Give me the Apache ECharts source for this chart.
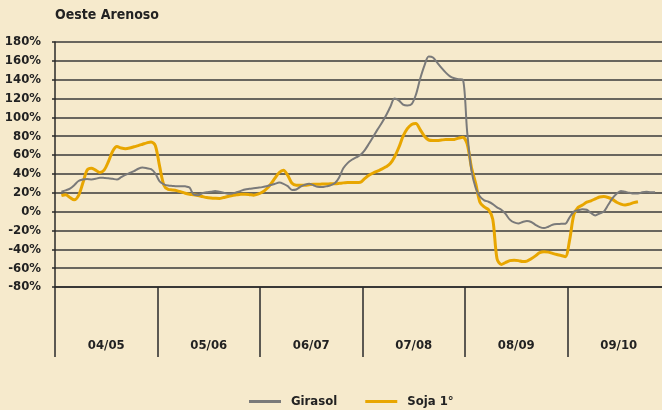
<!DOCTYPE html>
<html>
<head>
<meta charset="utf-8">
<script src="https://cdn.jsdelivr.net/npm/echarts@6/dist/echarts.min.js"></script>
<style>
  html, body { margin: 0; padding: 0; background: #f6eacc; }
  #chart { width: 662px; height: 410px; }
</style>
</head>
<body>
<div id="chart"></div>
<script>
// campañas (eje inferior)
const seasons = ['04/05', '05/06', '06/07', '07/08', '08/09', '09/10']
// quincenas, 24 por campaña
const periods = Array.from({ length: 144 }, (_, i) => i)
const yTicks = { min: -80, max: 180, step: 20 }

const girasol = [
  null, 21, 22.5, 24.3, 28, 32.5, 34, 34.5, 34.2, 34.8, 36, 35.8,
  35.5, 34.8, 34, 36.5, 39, 41, 43, 45.5, 46.7, 46, 45, 40.5,
  32, 29, 27.6, 27.3, 27, 27, 26.8, 25.5, 18, 17.5, 19.5, 20.5,
  21, 22, 21, 20, 19, 19.2, 20.5, 22, 23.5, 24.2, 24.8, 25.4,
  26, 27, 28.2, 29.5, 30.8, 29.5, 27, 23, 23.5, 26.5, 28.5, 29.6,
  28, 26.3, 26, 26.8, 27.8, 30, 36, 46, 51.5, 55, 57.5, 60,
  65, 72, 79.5, 87, 94, 102, 111, 120, 118, 113.5, 112.5, 114,
  124, 141, 155, 164.5, 163.5, 158, 152.5, 147.5, 143.5, 141.5, 140.5, 140,
  85, 44, 25, 16, 12, 10.5, 8, 4.5, 2, -2.5, -8.5, -11.5,
  -12.6, -11, -10, -11, -14, -16.5, -17.5, -16, -14, -13.2, -13, -12.8,
  -6, 0, 1.5, 2.5, 2, -1.5, -4, -2, 0, 7, 14, 19,
  22, 21, 20, 19.2, 19.2, 20.5, 21, 20.5, 20.5, null, null, null
]

const soja = [
  null, 17, 18, 15, 12.5, 17, 30, 44, 46, 44, 41.5, 44,
  53, 64, 69, 67.5, 66.8, 67.5, 68.8, 70, 71.5, 73, 74, 70,
  48, 28, 23.5, 23, 22.3, 21, 19.5, 18.5, 17.8, 17, 16, 15,
  14.5, 14.2, 14, 15, 16, 17.2, 17.8, 18.3, 18.3, 18, 17.5, 18.5,
  20.5, 24, 29, 35.5, 41.5, 44, 38.5, 30, 28, 28, 28, 28.5,
  29, 29, 29.2, 29.3, 29.5, 29.6, 30, 30.5, 30.8, 31, 31, 31.2,
  35, 38.5, 41, 43, 45, 47.5, 51, 58, 68, 80, 88, 92.5,
  93.5, 87, 80, 76, 75.5, 75.5, 76, 76.4, 76.4, 76.6, 78, 79,
  72, 47, 30, 10, 5, 2, -8, -50, -56, -54, -52, -51.5,
  -52, -53, -52.5, -50, -47, -43.5, -42.5, -43, -44.3, -45.5, -46.5, -47.8,
  -30, -3, 4.5, 7, 10, 11.5, 13.5, 15.5, 16, 15, 13, 10,
  8, 7, 8, 9.5, 10.5, null, null, null, null, null, null, null
]

const font = '"Liberation Sans Narrow", "DejaVu Sans Condensed", sans-serif'

let mycharts = echarts.init(document.getElementById('chart'))
mycharts.setOption({
  backgroundColor: '#f6eacc',
  title: {
    text: 'Oeste Arenoso',
    left: 50,
    top: 3,
    textStyle: { fontFamily: font, fontSize: 14, fontWeight: 'bold', color: '#222' },
  },
  legend: {
    left: 244,
    top: 390,
    itemWidth: 32,
    itemHeight: 3,
    itemGap: 28,
    icon: 'rect',
    data: ['Girasol', 'Soja 1°'],
    textStyle: { fontFamily: font, fontSize: 13, fontWeight: 'bold', color: '#222', padding: [0, 0, 0, 5] },
  },
  grid: {
    left: 55,
    top: 42,
    width: 615,
    height: 245,
    //no reajustar la rejilla al contenedor
    outerBoundsMode: 'none',
    containLabel: false,
  },
  xAxis: [
    {
      type: 'category',
      data: seasons,
      boundaryGap: true,
      //eje siempre abajo, no en el 0%
      axisLine: { show: true, onZero: false, lineStyle: { color: '#2a2a2a', width: 1.5 } },
      //separadores largos entre campañas
      axisTick: { show: true, inside: false, length: 70, lineStyle: { color: '#2a2a2a', width: 1.5 } },
      axisLabel: { margin: 52, fontFamily: font, fontSize: 13, fontWeight: 'bold', color: '#222' },
      splitLine: { show: false },
    },
    {
      type: 'category',
      data: periods,
      boundaryGap: true,
      show: false,
    },
  ],
  yAxis: {
    type: 'value',
    min: yTicks.min,
    max: yTicks.max,
    interval: yTicks.step,
    axisLine: { show: true, lineStyle: { color: '#2a2a2a', width: 1.5 } },
    axisTick: { show: true, length: 3, lineStyle: { color: '#2a2a2a', width: 1.5 } },
    axisLabel: { formatter: '{value}%', margin: 14, fontFamily: font, fontSize: 13, fontWeight: 'bold', color: '#222' },
    splitLine: { show: true, lineStyle: { color: '#3a3a3a', width: 1.5 } },
  },
  series: [
    {
      name: 'Girasol',
      type: 'line',
      xAxisIndex: 1,
      data: girasol,
      smooth: 0.3,
      symbol: 'none',
      color: '#7a7a7a',
      lineStyle: { color: '#7a7a7a', width: 2 },
      z: 3,
    },
    {
      name: 'Soja 1°',
      type: 'line',
      xAxisIndex: 1,
      data: soja,
      smooth: 0.3,
      symbol: 'none',
      color: '#e8a600',
      lineStyle: { color: '#e8a600', width: 3 },
      z: 2,
    },
  ],
})
</script>
</body>
</html>
